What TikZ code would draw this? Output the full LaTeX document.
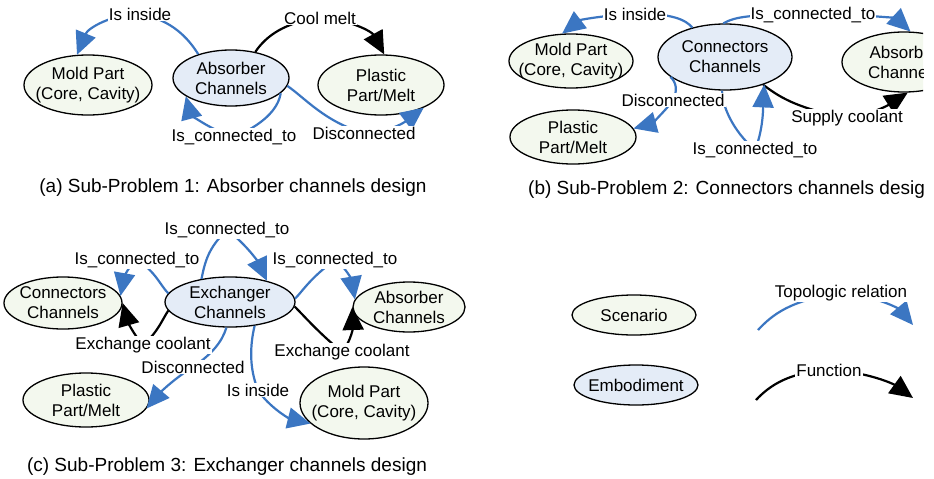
\documentclass[tikz,border=0pt]{standalone}
\usepackage{fontspec}
\setmainfont{Liberation Sans}
\usetikzlibrary{shapes.geometric,arrows.meta}
\definecolor{lineblue}{HTML}{3B76C2}
\definecolor{scengreen}{HTML}{F3F8EE}
\definecolor{embblue}{HTML}{E4ECF7}
\newcommand\lfont{\fontsize{17}{20}\selectfont}
\newcommand\cfont{\fontsize{19}{22}\selectfont}
\begin{document}
\begin{tikzpicture}[x=1pt,y=-1pt,
  ell/.style={ellipse, draw=black, line width=1.3pt, inner sep=0pt},
  scen/.style={ell, fill=scengreen},
  embo/.style={ell, fill=embblue},
  txt/.style={font=\lfont, align=center, inner sep=0pt},
  lbl/.style={fill=white, inner sep=1pt, font=\lfont},
  captext/.style={font=\cfont, inner sep=0pt},
  blu/.style={draw=lineblue, line width=2.2pt, -{Triangle[length=23pt,width=21pt]}},
  blk/.style={draw=black, line width=2.2pt, -{Triangle[length=23pt,width=21pt]}}]
\useasboundingbox (0,0) rectangle (934,479);
\fill[white] (0,0) rectangle (934,479);
\clip (0,0) rectangle (923,479);

% ---------- (a)
\node[scen, minimum width=128pt, minimum height=60pt, label={[txt]center:{Mold Part\\(Core, Cavity)}}] (moldA) at (88,85) {};
\node[embo, minimum width=116pt, minimum height=56pt, label={[txt]center:{Absorber\\Channels}}] (absA) at (231,78) {};
\node[scen, minimum width=126pt, minimum height=60pt, label={[txt]center:{Plastic\\Part/Melt}}] (plasA) at (381,85) {};

\coordinate (lA1) at (140,14);
\coordinate (lA2) at (320,18);
\coordinate (lA3) at (234,137);
\coordinate (lA4) at (364,133);
\draw[blu] (absA.144) .. controls (188,38) and (172,20) .. (lA1) .. controls (112,14) and (88,28) .. (moldA.110);
\draw[blk] (absA.47) .. controls (266,36) and (285,22) .. (lA2) .. controls (352,20) and (372,32) .. (plasA.84);
\draw[blu] (absA.343) .. controls (278,110) and (262,125) .. (lA3) .. controls (205,128) and (190,112) .. (absA.202);
\draw[blu] (absA.352) .. controls (305,98) and (325,122) .. (lA4) .. controls (395,132) and (410,118) .. (plasA.332);
\node[lbl] (LA1) at (lA1) {Is inside};
\node[lbl] (LA2) at (lA2) {Cool melt};
\node[lbl] (LA3) at (lA3) {Is\_connected\_to};
\node[lbl] (LA4) at (lA4) {Disconnected};
\node[captext] (capA) at (233,188) {(a) Sub-Problem 1: Absorber channels design};

% ---------- (b)
\node[scen, minimum width=124pt, minimum height=54pt, label={[txt]center:{Mold Part\\(Core, Cavity)}}] (moldB) at (571,61) {};
\node[embo, minimum width=134pt, minimum height=66pt, label={[txt]center:{Connectors\\Channels}}] (connB) at (725,57) {};
\node[scen, minimum width=124pt, minimum height=60pt, label={[txt]center:{Absorber\\Channels}}] (absB) at (904,62) {};
\node[scen, minimum width=126pt, minimum height=54pt, label={[txt]center:{Plastic\\Part/Melt}}] (plasB) at (573,137) {};

\coordinate (lB1) at (635,14);
\coordinate (lB2) at (813,15);
\coordinate (lB3) at (847,118);
\coordinate (lB4) at (673,100);
\coordinate (lB5) at (755,150);
\draw[blu] (connB.138) .. controls (686,20) and (672,13) .. (lB1) .. controls (605,15) and (580,20) .. (moldB.108);
\draw[blu] (connB.93) .. controls (735,17) and (748,14) .. (lB2) .. controls (878,14) and (898,20) .. (absB.78);
\draw[blk] (connB.324) .. controls (778,96) and (795,108) .. (lB3) .. controls (882,112) and (896,100) .. (absB.277);
\draw[blu] (connB.200) .. controls (676,82) and (678,90) .. (lB4) .. controls (665,112) and (650,124) .. (plasB.8);
\draw[blu] (connB.265) .. controls (722,105) and (732,130) .. (lB5) .. controls (763,130) and (763,110) .. (connB.325);
\node[lbl] (LB1) at (lB1) {Is inside};
\node[lbl] (LB2) at (lB2) {Is\_connected\_to};
\node[lbl] (LB3) at (lB3) {Supply coolant};
\node[lbl] (LB4) at (lB4) {Disconnected};
\node[lbl] (LB5) at (lB5) {Is\_connected\_to};
\node[captext, anchor=west] (capB) at (528,190) {(b) Sub-Problem 2: Connectors channels design};

% ---------- (c)
\node[scen, minimum width=118pt, minimum height=52pt, label={[txt]center:{Connectors\\Channels}}] (connC) at (63,303) {};
\node[embo, minimum width=130pt, minimum height=50pt, label={[txt]center:{Exchanger\\Channels}}] (exC) at (230,302) {};
\node[scen, minimum width=112pt, minimum height=50pt, label={[txt]center:{Absorber\\Channels}}] (absC) at (409,307) {};
\node[scen, minimum width=126pt, minimum height=54pt, label={[txt]center:{Plastic\\Part/Melt}}] (plasC) at (86,400) {};
\node[scen, minimum width=128pt, minimum height=72pt, label={[txt]center:{Mold Part\\(Core, Cavity)}}] (moldC) at (364,403) {};

\coordinate (lC1) at (227,230);
\coordinate (lC2) at (137,260);
\coordinate (lC3) at (143,345);
\coordinate (lC4) at (335,260);
\coordinate (lC5) at (342,352);
\coordinate (lC6) at (193,367);
\coordinate (lC7) at (258,390);
\draw[blu] (exC.141) .. controls (205,262) and (208,248) .. (lC1) .. controls (246,244) and (258,262) .. (exC.30);
\draw[blu] (exC.172) .. controls (160,285) and (156,272) .. (lC2) .. controls (126,268) and (123,282) .. (connC.7);
\draw[blk] (exC.188) .. controls (162,320) and (158,332) .. (lC3) .. controls (134,335) and (128,322) .. (connC.0);
\draw[blu] (exC.3) .. controls (302,292) and (310,278) .. (lC4) .. controls (347,268) and (352,282) .. (absC.172);
\draw[blk] (exC.356) .. controls (306,318) and (318,332) .. (lC5) .. controls (352,340) and (353,325) .. (absC.180);
\draw[blu] (exC.262) .. controls (222,342) and (212,354) .. (lC6) .. controls (172,380) and (158,395) .. (plasC.352);
\draw[blu] (exC.316) .. controls (250,345) and (249,368) .. (lC7) .. controls (268,406) and (288,418) .. (moldC.201);
\node[lbl] (LC1) at (lC1) {Is\_connected\_to};
\node[lbl] (LC2) at (lC2) {Is\_connected\_to};
\node[lbl] (LC3) at (lC3) {Exchange coolant};
\node[lbl] (LC4) at (lC4) {Is\_connected\_to};
\node[lbl] (LC5) at (lC5) {Exchange coolant};
\node[lbl] (LC6) at (lC6) {Disconnected};
\node[lbl] (LC7) at (lC7) {Is inside};
\node[captext] (capC) at (227,467) {(c) Sub-Problem 3: Exchanger channels design};

% ---------- legend
\node[scen, minimum width=124pt, minimum height=40pt, label={[txt]center:{Scenario}}] (scenL) at (634,315) {};
\node[embo, minimum width=124pt, minimum height=40pt, label={[txt]center:{Embodiment}}] (embL) at (636,385) {};
\coordinate (t1) at (758,330);
\coordinate (t2) at (913,325);
\coordinate (lD1) at (841,293);
\coordinate (f1) at (756,400);
\coordinate (f2) at (913,398);
\coordinate (lD2) at (829,370);
\draw[blu] (t1) .. controls (772,315) and (790,300) .. (lD1) .. controls (888,298) and (903,313) .. (t2);
\draw[blk] (f1) .. controls (770,385) and (790,372) .. (lD2) .. controls (870,372) and (895,385) .. (f2);
\node[lbl] (LD1) at (lD1) {Topologic relation};
\node[lbl] (LD2) at (lD2) {Function};
\end{tikzpicture}
\end{document}
